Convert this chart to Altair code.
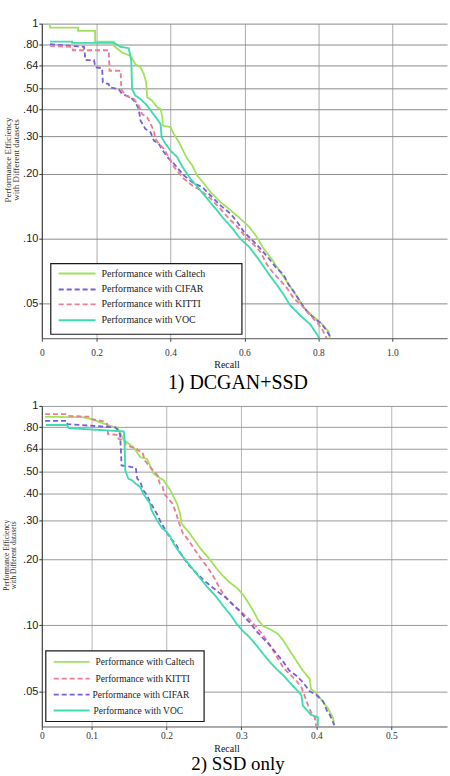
import altair as alt
import pandas as pd

# ---- series definitions -------------------------------------------------
CALTECH = "Performance with Caltech"
CIFAR = "Performance with CIFAR"
KITTI = "Performance with KITTI"
VOC = "Performance with VOC"

SERIES = [CALTECH, CIFAR, KITTI, VOC]
COLORS = ["#9fe35c", "#7b5fd8", "#ec7d92", "#3fdcb2"]
DASHES = [[1, 0], [5, 3], [5, 3], [1, 0]]
WIDTHS = [1.8, 1.9, 1.7, 2.1]

Y_TICKS = [1, 0.8, 0.64, 0.5, 0.4, 0.3, 0.2, 0.1, 0.05]
Y_MIN = 0.0345

# ---- 1) DCGAN+SSD -------------------------------------------------------
p1_caltech_recall = [0.074, 0.074, 0.150, 0.150, 0.196, 0.196, 0.247, 0.247, 0.269, 0.292,
                     0.305, 0.319, 0.328, 0.334, 0.337, 0.350, 0.364, 0.373, 0.378, 0.379,
                     0.400, 0.409, 0.423, 0.436, 0.445, 0.459, 0.472, 0.490, 0.508, 0.535,
                     0.562, 0.589, 0.612, 0.630, 0.652, 0.675, 0.697, 0.724, 0.742, 0.760,
                     0.783, 0.805, 0.828, 0.832]
p1_caltech_value = [0.995, 0.958, 0.958, 0.925, 0.925, 0.825, 0.825, 0.788, 0.734, 0.708,
                    0.648, 0.626, 0.582, 0.533, 0.455, 0.439, 0.409, 0.401, 0.367, 0.336,
                    0.330, 0.307, 0.281, 0.253, 0.236, 0.219, 0.197, 0.181, 0.165, 0.148,
                    0.136, 0.124, 0.114, 0.104, 0.090, 0.080, 0.070, 0.060, 0.054, 0.048,
                    0.044, 0.041, 0.037, 0.034]

p1_cifar_recall = [0.074, 0.166, 0.170, 0.193, 0.197, 0.215, 0.217, 0.233, 0.235, 0.260,
                   0.269, 0.292, 0.305, 0.314, 0.319, 0.332, 0.346, 0.355, 0.368, 0.382,
                   0.395, 0.405, 0.436, 0.463, 0.486, 0.508, 0.535, 0.562, 0.580, 0.598,
                   0.625, 0.643, 0.666, 0.684, 0.706, 0.720, 0.733, 0.751, 0.769, 0.787,
                   0.810, 0.824, 0.837]
p1_cifar_value = [0.802, 0.780, 0.676, 0.676, 0.626, 0.621, 0.533, 0.524, 0.506, 0.496,
                  0.471, 0.455, 0.431, 0.401, 0.354, 0.324, 0.313, 0.286, 0.277, 0.253,
                  0.236, 0.228, 0.197, 0.181, 0.174, 0.159, 0.143, 0.131, 0.120, 0.108,
                  0.097, 0.090, 0.081, 0.074, 0.068, 0.061, 0.057, 0.051, 0.046, 0.043,
                  0.040, 0.037, 0.034]

p1_kitti_recall = [0.074, 0.134, 0.136, 0.233, 0.235, 0.265, 0.267, 0.278, 0.301, 0.314,
                   0.323, 0.337, 0.346, 0.355, 0.359, 0.368, 0.382, 0.395, 0.409, 0.436,
                   0.459, 0.481, 0.508, 0.535, 0.558, 0.580, 0.603, 0.625, 0.643, 0.661,
                   0.679, 0.697, 0.715, 0.733, 0.760, 0.778, 0.796, 0.810, 0.824]
p1_kitti_value = [0.788, 0.780, 0.752, 0.752, 0.604, 0.604, 0.496, 0.463, 0.446, 0.416,
                  0.380, 0.367, 0.342, 0.318, 0.291, 0.277, 0.262, 0.240, 0.216, 0.190,
                  0.177, 0.168, 0.154, 0.138, 0.124, 0.114, 0.102, 0.094, 0.087, 0.076,
                  0.069, 0.064, 0.059, 0.053, 0.048, 0.044, 0.041, 0.038, 0.034]

p1_voc_recall = [0.074, 0.134, 0.134, 0.247, 0.265, 0.287, 0.294, 0.296, 0.305, 0.319,
                 0.337, 0.350, 0.364, 0.373, 0.376, 0.386, 0.400, 0.418, 0.432, 0.454,
                 0.477, 0.499, 0.522, 0.544, 0.567, 0.589, 0.612, 0.630, 0.648, 0.670,
                 0.688, 0.706, 0.724, 0.751, 0.778, 0.796, 0.805]
p1_voc_value = [0.825, 0.825, 0.814, 0.814, 0.780, 0.769, 0.672, 0.496, 0.463, 0.446,
                0.416, 0.387, 0.360, 0.342, 0.297, 0.277, 0.257, 0.240, 0.216, 0.190,
                0.171, 0.154, 0.138, 0.124, 0.112, 0.100, 0.092, 0.084, 0.076, 0.067,
                0.061, 0.055, 0.049, 0.044, 0.040, 0.036, 0.034]

# ---- 2) SSD only --------------------------------------------------------
p2_caltech_recall = [0.038, 0.088, 0.101, 0.112, 0.125, 0.135, 0.143, 0.156, 0.165, 0.174,
                     0.183, 0.196, 0.205, 0.214, 0.218, 0.220, 0.231, 0.246, 0.258, 0.267,
                     0.276, 0.285, 0.294, 0.302, 0.309, 0.316, 0.322, 0.329, 0.338, 0.349,
                     0.356, 0.364, 0.373, 0.382, 0.391, 0.393, 0.400, 0.406, 0.415, 0.422,
                     0.424]
p2_caltech_value = [0.892, 0.888, 0.870, 0.840, 0.812, 0.790, 0.700, 0.648, 0.584, 0.573,
                    0.490, 0.458, 0.413, 0.359, 0.323, 0.291, 0.262, 0.222, 0.199, 0.181,
                    0.167, 0.156, 0.148, 0.138, 0.127, 0.116, 0.106, 0.099, 0.096, 0.091,
                    0.085, 0.077, 0.069, 0.062, 0.057, 0.051, 0.049, 0.046, 0.042, 0.038,
                    0.035]

p2_kitti_recall = [0.038, 0.066, 0.069, 0.098, 0.100, 0.117, 0.121, 0.122, 0.135, 0.136,
                   0.144, 0.145, 0.153, 0.160, 0.162, 0.168, 0.171, 0.180, 0.184, 0.188,
                   0.191, 0.195, 0.197, 0.202, 0.208, 0.213, 0.217, 0.222, 0.229, 0.238,
                   0.247, 0.256, 0.263, 0.269, 0.276, 0.285, 0.294, 0.302, 0.311, 0.320,
                   0.329, 0.338, 0.347, 0.356, 0.364, 0.373, 0.380, 0.384, 0.389, 0.393,
                   0.398, 0.400]
p2_kitti_value = [0.917, 0.917, 0.901, 0.892, 0.870, 0.849, 0.826, 0.744, 0.737, 0.707,
                  0.699, 0.671, 0.648, 0.641, 0.626, 0.615, 0.564, 0.517, 0.499, 0.482,
                  0.442, 0.427, 0.398, 0.378, 0.359, 0.323, 0.291, 0.262, 0.245, 0.220,
                  0.199, 0.181, 0.166, 0.152, 0.138, 0.127, 0.119, 0.113, 0.106, 0.098,
                  0.090, 0.081, 0.072, 0.064, 0.060, 0.056, 0.052, 0.048, 0.043, 0.040,
                  0.038, 0.034]

p2_cifar_recall = [0.038, 0.067, 0.068, 0.132, 0.134, 0.138, 0.139, 0.140, 0.149, 0.159,
                   0.161, 0.165, 0.169, 0.174, 0.178, 0.183, 0.187, 0.192, 0.196, 0.205,
                   0.212, 0.218, 0.229, 0.240, 0.251, 0.262, 0.271, 0.280, 0.289, 0.298,
                   0.305, 0.311, 0.320, 0.329, 0.338, 0.347, 0.356, 0.364, 0.373, 0.382,
                   0.391, 0.400, 0.409, 0.415, 0.418, 0.424]
p2_cifar_value = [0.855, 0.855, 0.826, 0.798, 0.784, 0.744, 0.648, 0.535, 0.530, 0.522,
                  0.466, 0.450, 0.413, 0.392, 0.365, 0.341, 0.323, 0.297, 0.281, 0.249,
                  0.236, 0.215, 0.189, 0.173, 0.159, 0.148, 0.140, 0.133, 0.124, 0.116,
                  0.108, 0.103, 0.094, 0.087, 0.081, 0.074, 0.068, 0.062, 0.059, 0.055,
                  0.050, 0.048, 0.045, 0.040, 0.039, 0.035]

p2_voc_recall = [0.039, 0.067, 0.070, 0.143, 0.144, 0.145, 0.149, 0.154, 0.159, 0.165,
                 0.169, 0.178, 0.180, 0.187, 0.194, 0.200, 0.205, 0.209, 0.218, 0.232,
                 0.243, 0.254, 0.267, 0.276, 0.285, 0.294, 0.302, 0.311, 0.320, 0.329,
                 0.338, 0.347, 0.356, 0.364, 0.373, 0.380, 0.382, 0.393, 0.402, 0.402]
p2_voc_value = [0.818, 0.818, 0.792, 0.765, 0.694, 0.508, 0.466, 0.458, 0.442, 0.427,
                0.398, 0.359, 0.335, 0.302, 0.277, 0.267, 0.254, 0.237, 0.213, 0.186,
                0.167, 0.150, 0.134, 0.122, 0.112, 0.101, 0.094, 0.088, 0.081, 0.074,
                0.068, 0.063, 0.059, 0.055, 0.051, 0.048, 0.043, 0.039, 0.038, 0.034]


def curves_frame(curves):
    rows = []
    for name, (rs, vs) in curves.items():
        assert len(rs) == len(vs), name
        for i, (r, v) in enumerate(zip(rs, vs)):
            rows.append({"series": name, "recall": r, "value": v, "idx": i})
    return pd.DataFrame(rows)


ONE = pd.DataFrame({"k": [0]})


def text_layer(txt, x, y, size, font="Liberation Serif", angle=0, align="center",
               baseline="middle", color="#111"):
    return alt.Chart(ONE).mark_text(
        font=font, fontSize=size, angle=angle, align=align, baseline=baseline, color=color
    ).encode(x=alt.value(x), y=alt.value(y), text=alt.value(txt))


def panel(curves, x_domain, x_ticks, zero_cut, width, height, x_pad, legend, texts,
          grid_y, grid_x, extra):
    df = curves_frame(curves)
    x_enc = alt.X(
        "recall:Q",
        title=None,
        scale=alt.Scale(domain=x_domain, nice=False, zero=False),
        axis=alt.Axis(
            values=x_ticks,
            labelExpr=f"datum.value < {zero_cut} ? '0' : format(datum.value, '.1f')",
            labelFont="Liberation Serif", labelFontSize=9.5, labelColor="#333",
            labelPadding=x_pad, labelFlush=False, labelOverlap=False,
            tickSize=3, tickColor="#444", domainColor="#555",
            gridColor=grid_x, gridWidth=1,
        ),
    )
    y_enc = alt.Y(
        "value:Q",
        title=None,
        scale=alt.Scale(type="log", domain=[Y_MIN, 1], nice=False),
        axis=alt.Axis(
            values=Y_TICKS,
            labelExpr="datum.value >= 1 ? '1' : replace(format(datum.value, '.2f'), '0.', '.')",
            labelFont="Liberation Sans", labelFontSize=11, labelColor="#1a1a1a",
            labelPadding=1, labelOverlap=False, labelFlush=False,
            tickSize=3, tickColor="#333", domainColor="#333",
            gridColor=grid_y, gridWidth=1,
        ),
    )
    lines = alt.Chart(df).mark_line(clip=True).encode(
        x=x_enc,
        y=y_enc,
        color=alt.Color("series:N", scale=alt.Scale(domain=SERIES, range=COLORS), legend=None),
        strokeDash=alt.StrokeDash("series:N", scale=alt.Scale(domain=SERIES, range=DASHES), legend=None),
        strokeWidth=alt.StrokeWidth("series:N", scale=alt.Scale(domain=SERIES, range=WIDTHS), legend=None),
        order=alt.Order("idx:Q"),
    )

    layers = [extra, lines]

    # legend box and entries
    bx0, bx1, by0, by1, sx0, sx1, rows = legend
    layers.append(
        alt.Chart(ONE).mark_rect(fill="white", stroke="#1a1a1a", strokeWidth=1.2).encode(
            x=alt.value(bx0), x2=alt.value(bx1), y=alt.value(by0), y2=alt.value(by1)
        )
    )
    for name, ry, tx, fs in rows:
        k = SERIES.index(name)
        layers.append(
            alt.Chart(ONE).mark_rule(color=COLORS[k], strokeDash=DASHES[k], strokeWidth=WIDTHS[k]).encode(
                x=alt.value(sx0), x2=alt.value(sx1), y=alt.value(ry)
            )
        )
        layers.append(text_layer(name, tx, ry, fs, align="left", color="#222"))

    layers += texts
    return alt.layer(*layers).properties(width=width, height=height)


# invisible frames that pin the outer edges of the page
top_frame = alt.Chart(ONE).mark_rect(opacity=0).encode(
    x=alt.value(-41), x2=alt.value(409), y=alt.value(-21), y2=alt.value(0)
)
bottom_frame = alt.Chart(ONE).mark_rect(opacity=0).encode(
    x=alt.value(-41), x2=alt.value(409), y=alt.value(0), y2=alt.value(371)
)

top = panel(
    {CALTECH: (p1_caltech_recall, p1_caltech_value),
     CIFAR: (p1_cifar_recall, p1_cifar_value),
     KITTI: (p1_kitti_recall, p1_kitti_value),
     VOC: (p1_voc_recall, p1_voc_value)},
    x_domain=[0.0519, 1.148],
    x_ticks=[0.0519, 0.2, 0.4, 0.6, 0.8, 1.0],
    zero_cut=0.1,
    width=407, height=316, x_pad=6,
    legend=(9, 201, 241, 312, 17, 54,
            [(CALTECH, 251, 60, 10), (CIFAR, 267, 60, 10), (KITTI, 282, 60, 10), (VOC, 298, 60, 10)]),
    texts=[
        text_layer("Recall", 186, 343, 10),
        text_layer("1) DCGAN+SSD", 197, 361, 20, color="#000"),
        text_layer("Performance Efficiency", -34, 137, 9, angle=270, color="#333"),
        text_layer("with Different datasets", -26, 137, 9, angle=270, color="#333"),
    ],
    grid_y="#8a8a8a", grid_x="#ababab",
    extra=top_frame,
)

bottom = panel(
    {CALTECH: (p2_caltech_recall, p2_caltech_value),
     KITTI: (p2_kitti_recall, p2_kitti_value),
     CIFAR: (p2_cifar_recall, p2_cifar_value),
     VOC: (p2_voc_recall, p2_voc_value)},
    x_domain=[0.0336, 0.5744],
    x_ticks=[0.0336, 0.1, 0.2, 0.3, 0.4, 0.5],
    zero_cut=0.05,
    width=407, height=322, x_pad=1,
    legend=(4, 163, 246, 317, 12, 48,
            [(CALTECH, 257, 54, 9.5), (KITTI, 274, 54, 9.5), (CIFAR, 290, 51, 9.5), (VOC, 306, 52, 9.5)]),
    texts=[
        text_layer("Recall", 186, 345, 10),
        text_layer("2) SSD only", 197, 366, 19, baseline="alphabetic", color="#000"),
        text_layer("Performance Efficiency", -35, 150, 7.5, angle=270, color="#333"),
        text_layer("with Different datasets", -28, 150, 7.5, angle=270, color="#333"),
    ],
    grid_y="#9a9a9a", grid_x="#b5b5b5",
    extra=bottom_frame,
)

chart = alt.vconcat(top, bottom, spacing=68, bounds="flush").properties(
    padding=0, background="white"
).configure_view(stroke="transparent")

chart.save("out.html", embed_options={"renderer": "svg", "actions": False})
